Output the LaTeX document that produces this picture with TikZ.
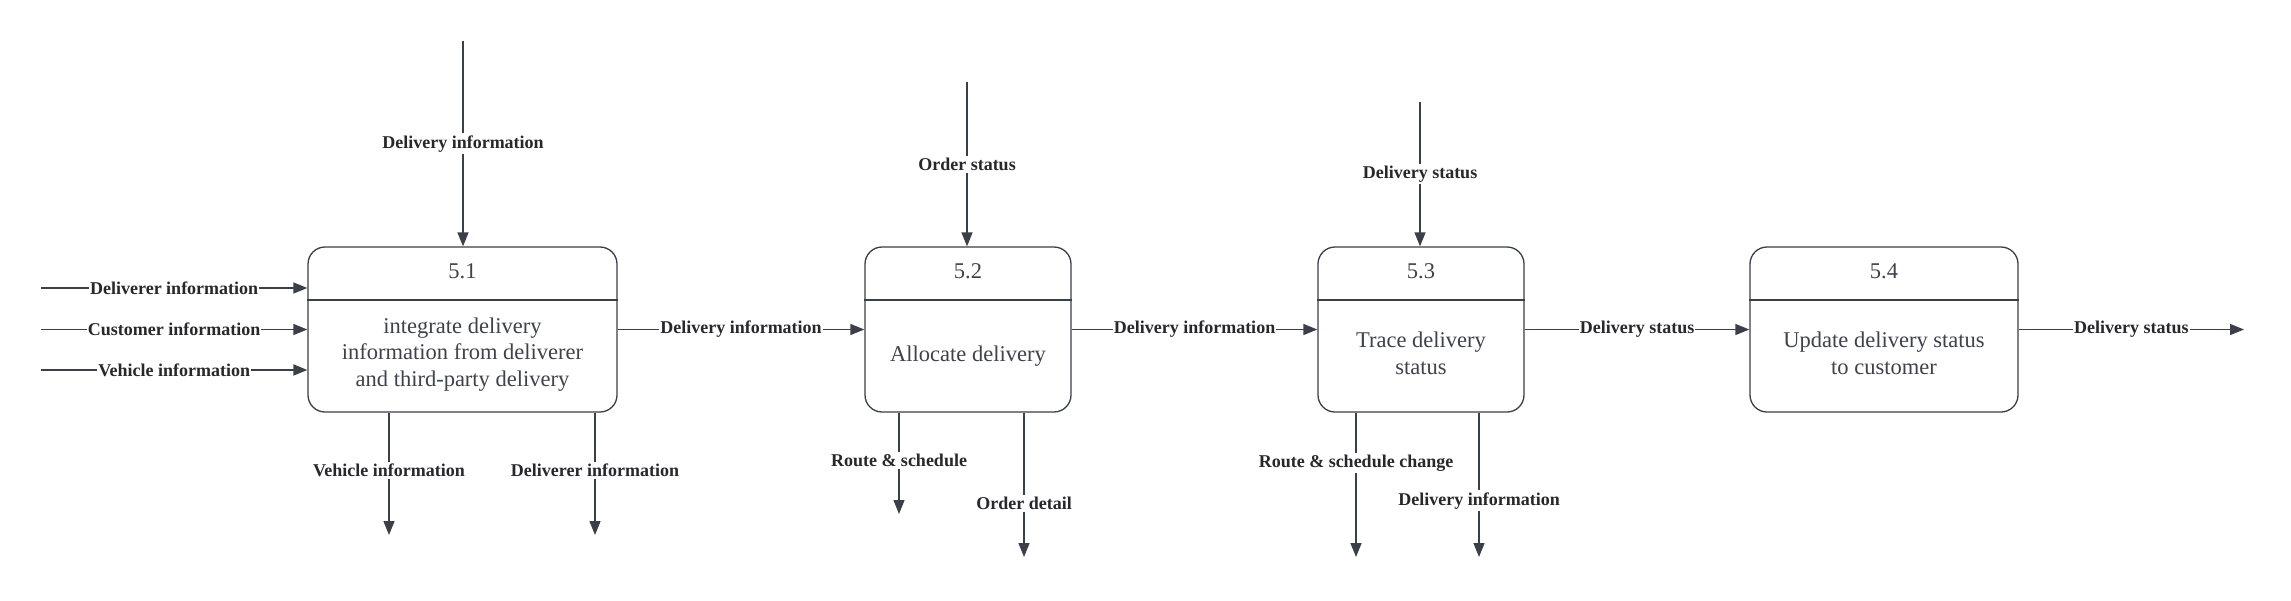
\documentclass[tikz,border=0pt]{standalone}
\usepackage{fontspec}
\setmainfont{Liberation Serif}
\usetikzlibrary{arrows.meta,calc}
\definecolor{ln}{RGB}{58,63,72}
\definecolor{tx}{RGB}{40,40,44}
\definecolor{bt}{RGB}{62,66,74}
\tikzset{
 proc/.style={draw=ln, line width=1.3pt, rounded corners=17pt, minimum height=165pt, inner sep=0pt},
 divider/.style={draw=ln, line width=1.3pt},
 flow/.style={draw=ln, line width=1.3pt, -{Triangle[length=14pt,width=11pt]}},
 lbl/.style={fill=white, text=tx, font=\fontsize{18}{20}\selectfont\bfseries, inner xsep=1pt, inner ysep=2pt},
 ttl/.style={text=bt, font=\fontsize{22.5}{26.5}\selectfont, align=center},
}
\begin{document}
\begin{tikzpicture}[x=1pt,y=-1pt]
\useasboundingbox[fill=white] (0,0) rectangle (2291,600);

% boxes
\node[proc, minimum width=309pt] (b1) at (462.5,329.5) {};
\node[proc, minimum width=206pt] (b2) at (968,329.5) {};
\node[proc, minimum width=206pt] (b3) at (1421,329.5) {};
\node[proc, minimum width=268pt] (b4) at (1884,329.5) {};

\foreach \b in {b1,b2,b3,b4}{
  \draw[divider] ($(\b.west)+(0,-29.5)$) -- ($(\b.east)+(0,-29.5)$);
}

\node[ttl] (t1) at ($(b1.north)+(0,25)$) {5.1};
\node[ttl] (t2) at ($(b2.north)+(0,25)$) {5.2};
\node[ttl] (t3) at ($(b3.north)+(0,25)$) {5.3};
\node[ttl] (t4) at ($(b4.north)+(0,25)$) {5.4};

\node[ttl] (d1) at ($(b1.center)+(0,25)$) {integrate delivery\\information from deliverer\\and third-party delivery};
\node[ttl] (d2) at ($(b2.center)+(0,27)$) {Allocate delivery};
\node[ttl] (d3) at ($(b3.center)+(0,24)$) {Trace delivery\\status};
\node[ttl] (d4) at ($(b4.center)+(0,24)$) {Update delivery status\\to customer};

% free ends
\coordinate (i1) at (41,288);
\coordinate (i2) at (41,329.5);
\coordinate (i3) at (41,370);
\coordinate (n1) at (463,41);
\coordinate (n2) at (967,82);
\coordinate (n3) at (1420,102);
\coordinate (s1a) at (389,535);
\coordinate (s1b) at (595,535);
\coordinate (s2a) at (899,514);
\coordinate (s2b) at (1024,557);
\coordinate (s3a) at (1356,557);
\coordinate (s3b) at (1479,557);
\coordinate (o4) at (2244,329.5);

% inputs to 5.1
\draw[flow] (i1) -- node[lbl]{Deliverer information} (i1 -| b1.west);
\draw[flow] (i2) -- node[lbl]{Customer information} (b1.west);
\draw[flow, line width=1.8pt] (i3) -- node[lbl]{Vehicle information} (i3 -| b1.west);

% top inputs
\draw[flow] (n1) -- node[lbl]{Delivery information} (n1 |- b1.north);
\draw[flow] (n2) -- node[lbl]{Order status} (n2 |- b2.north);
\draw[flow] (n3) -- node[lbl]{Delivery status} (n3 |- b3.north);

% main chain
\draw[flow] (b1.east) -- node[lbl]{Delivery information} (b2.west);
\draw[flow] (b2.east) -- node[lbl]{Delivery information} (b3.west);
\draw[flow] (b3.east) -- node[lbl]{Delivery status} (b4.west);
\draw[flow] (b4.east) -- node[lbl]{Delivery status} (o4);

% bottom outputs
\draw[flow] (s1a |- b1.south) -- node[lbl, pos=0.47]{Vehicle information} (s1a);
\draw[flow] (s1b |- b1.south) -- node[lbl, pos=0.47]{Deliverer information} (s1b);
\draw[flow] (s2a |- b2.south) -- node[lbl, pos=0.47]{Route \& schedule} (s2a);
\draw[flow] (s2b |- b2.south) -- node[lbl, pos=0.63]{Order detail} (s2b);
\draw[flow, line width=1.6pt] (s3a |- b3.south) -- node[lbl, pos=0.35]{Route \& schedule change} (s3a);
\draw[flow] (s3b |- b3.south) -- node[lbl, pos=0.61]{Delivery information} (s3b);
\end{tikzpicture}
\end{document}
